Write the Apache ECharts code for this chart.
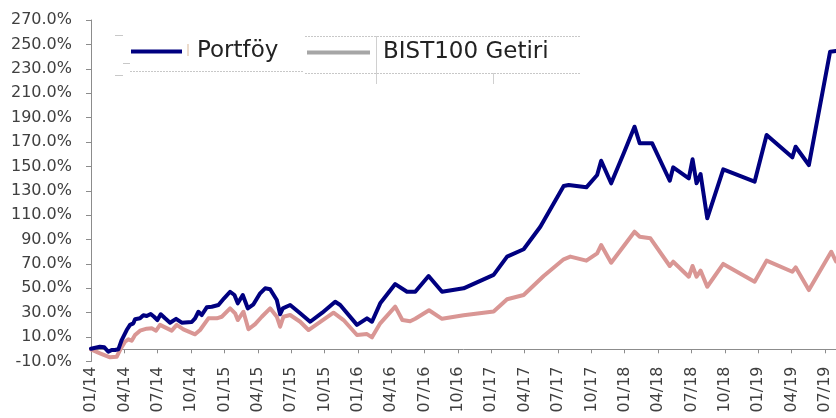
<!DOCTYPE html>
<html>
<head>
<meta charset="utf-8">
<script src="https://cdn.jsdelivr.net/npm/echarts@6/dist/echarts.min.js"></script>
<style>
  html, body { margin: 0; padding: 0; background: #fff; }
  #chart { width: 836px; height: 418px; }
</style>
</head>
<body>
<div id="chart"></div>
<script>
// x = months since 01/2014
const xTickLabels = ['01/14', '04/14', '07/14', '10/14', '01/15', '04/15', '07/15', '10/15',
  '01/16', '04/16', '07/16', '10/16', '01/17', '04/17', '07/17', '10/17',
  '01/18', '04/18', '07/18', '10/18', '01/19', '04/19', '07/19'];

const portMonths = [0, 0.8, 1.2, 1.56, 1.86, 2.16, 2.46, 2.76, 3.21, 3.51, 3.81, 3.96, 4.41, 4.71, 5.01,
  5.37, 5.67, 5.97, 6.27, 6.66, 7.11, 7.65, 8.16, 9.06, 9.36, 9.66, 9.96, 10.41, 10.86, 11.46,
  11.97, 12.51, 12.9, 13.2, 13.65, 14.1, 14.61, 15.21, 15.66, 16.11, 16.71, 17.01, 17.25, 17.91,
  18.81, 19.71, 20.8, 21.96, 22.41, 23.92, 24.82, 25.27, 26.01, 27.36, 28.42, 29.16, 30.36,
  31.57, 33.51, 36.21, 37.42, 38.91, 40.41, 42.51, 42.96, 44.55, 45.52, 45.88, 46.78, 47.91,
  48.88, 49.35, 50.47, 52.05, 52.36, 53.76, 54.1, 54.46, 54.82, 55.42, 56.86, 59.68, 60.76,
  63.07, 63.37, 64.56, 66.47, 67];
const portValues = [0.5, 2.1, 1.6, -2, -0.6, -0.6, 0, 7.6, 15.8, 20, 21.3, 24.6, 25.4, 27.9, 27.3,
  29, 26.7, 24, 28.7, 25.4, 21.8, 25, 21.8, 22.4, 25.4, 30.8, 28.1, 34.4, 34.9, 36.3,
  41.8, 47.2, 44.5, 37.7, 44.5, 33.6, 36.9, 45.9, 50, 49.2, 40.4, 28.7, 33.6, 36.3,
  29.5, 22.6, 30, 39, 36.3, 20, 25.4, 22.6, 37.7, 53.5, 47.2, 47.2, 60.1,
  47.2, 50, 61, 76, 82, 100.5, 133.9, 134.7, 132.8, 142.9, 154.6, 136.1, 160.7,
  182.5, 168.9, 168.9, 138.2, 149.2, 140.2, 155.8, 136.1, 143.7, 107.4, 147.6, 137.4, 175.7,
  157.4, 166.1, 151.1, 244, 244.5];

const bistMonths = [0, 0.81, 1.71, 2.31, 2.61, 3.06, 3.36, 3.66, 3.96, 4.41, 5.01, 5.46, 5.85, 6.21,
  6.66, 7.26, 7.71, 8.31, 9.36, 9.81, 10.56, 11.31, 11.76, 12.51, 12.96, 13.2, 13.71, 14.16,
  14.76, 15.36, 16.11, 16.71, 17.01, 17.31, 17.91, 18.81, 19.56, 21.81, 22.71, 23.92, 24.82,
  25.27, 26.01, 27.36, 28.0, 28.7, 29.16, 30.4, 31.57, 33.51, 36.21, 37.42, 38.91, 40.71,
  42.51, 43.11, 44.55, 45.52, 45.88, 46.78, 48.88, 49.35, 50.31, 52.05, 52.36, 53.76, 54.1,
  54.46, 54.82, 55.42, 56.86, 59.68, 60.76, 63.07, 63.37, 64.56, 66.57, 67];
const bistValues = [0, -3.3, -6.6, -6.1, -0.6, 6.2, 8.2, 7, 11.7, 15.3, 16.9, 17.2, 15.3, 20,
  18, 15.3, 20, 16.4, 12.3, 15.8, 25.4, 25.4, 26.7, 33.6, 29.5, 24, 30.8, 16.4,
  20.7, 26.7, 33.6, 26.7, 18.5, 26.7, 28.1, 22.6, 15.8, 30, 24, 11.7, 12.5,
  9.8, 21.3, 35, 24, 23, 25, 32, 25, 28, 31, 41, 44.5, 60.1,
  73.8, 76, 72.7, 78.7, 85.5, 71, 96.4, 92.3, 91, 68.3, 71.8, 59.5, 68.3,
  59.5, 64.5, 51.3, 70, 55.4, 72.7, 63.6, 67.2, 48.6, 80, 72];

const chart = echarts.init(document.getElementById('chart'));

const axisGray = '#8c8c8c';
const labelColor = '#404040';
const font = 'DejaVu Sans';

const option = {
  animation: false,
  backgroundColor: '#fff',
  grid: { left: 91, right: 0, top: 20, bottom: 56.5 },
  legend: [
    {
      data: [{ name: 'Portföy', itemStyle: { color: '#000080' } }],
      left: 131, top: 40, padding: 0,
      icon: 'rect', itemWidth: 51, itemHeight: 4,
      selectedMode: false,
      textStyle: { fontFamily: font, fontSize: 23, color: '#222', padding: [2, 0, 0, 10] }
    },
    {
      data: [{ name: 'BIST100 Getiri', itemStyle: { color: '#a6a6a6' }, lineStyle: { color: '#a6a6a6' } }],
      left: 307, top: 41, padding: 0,
      icon: 'rect', itemWidth: 63, itemHeight: 4,
      selectedMode: false,
      textStyle: { fontFamily: font, fontSize: 23, color: '#222', padding: [2, 0, 0, 8] }
    }
  ],
  xAxis: {
    type: 'value',
    min: 0, max: 67, interval: 3,
    splitLine: { show: false },
    axisLine: { lineStyle: { color: axisGray, width: 1 } },
    axisTick: { length: 4, lineStyle: { color: axisGray } },
    axisLabel: {
      rotate: 90, margin: 5, showMaxLabel: false,
      fontFamily: font, fontSize: 16, color: labelColor,
      formatter: function (v) {
        const i = v / 3;
        return Number.isInteger(i) && i < xTickLabels.length ? xTickLabels[i] : '';
      }
    }
  },
  yAxis: {
    type: 'value',
    min: -10, max: 270, interval: 20,
    splitLine: { show: false },
    axisLine: { show: true, lineStyle: { color: axisGray, width: 1 } },
    axisTick: { show: true, length: 5, lineStyle: { color: axisGray } },
    axisLabel: {
      margin: 19, fontFamily: font, fontSize: 16, color: labelColor,
      formatter: function (v) { return v.toFixed(1) + '%'; }
    }
  },
  series: [
    {
      name: 'BIST100 Getiri',
      type: 'line',
      data: bistMonths.map(function (m, i) { return [m, bistValues[i]]; }),
      showSymbol: false,
      itemStyle: { color: '#d99694' },
      lineStyle: { color: '#d99694', width: 4, join: 'round', cap: 'round' }
    },
    {
      name: 'Portföy',
      type: 'line',
      data: portMonths.map(function (m, i) { return [m, portValues[i]]; }),
      showSymbol: false,
      itemStyle: { color: '#000080' },
      lineStyle: { color: '#000080', width: 4, join: 'round', cap: 'round' }
    }
  ],
  // leftover legend-box outlines seen in the original
  graphic: [
    { type: 'line', shape: { x1: 130, y1: 71.5, x2: 304, y2: 71.5 }, style: { stroke: '#c8c8c8', lineWidth: 1, lineDash: [2, 1] } },
    { type: 'line', shape: { x1: 305, y1: 36.5, x2: 580, y2: 36.5 }, style: { stroke: '#c8c8c8', lineWidth: 1, lineDash: [2, 1] } },
    { type: 'line', shape: { x1: 305, y1: 73.5, x2: 580, y2: 73.5 }, style: { stroke: '#c8c8c8', lineWidth: 1, lineDash: [2, 1] } },
    { type: 'line', shape: { x1: 376.5, y1: 36, x2: 376.5, y2: 84 }, style: { stroke: '#d0d0d0', lineWidth: 1 } },
    { type: 'line', shape: { x1: 493.5, y1: 73, x2: 493.5, y2: 84 }, style: { stroke: '#d0d0d0', lineWidth: 1 } },
    { type: 'line', shape: { x1: 115, y1: 35.5, x2: 123, y2: 35.5 }, style: { stroke: '#c8c8c8', lineWidth: 1 } },
    { type: 'line', shape: { x1: 123, y1: 63.5, x2: 130, y2: 63.5 }, style: { stroke: '#c8c8c8', lineWidth: 1 } },
    { type: 'line', shape: { x1: 115, y1: 75.5, x2: 123, y2: 75.5 }, style: { stroke: '#c8c8c8', lineWidth: 1 } },
    { type: 'line', shape: { x1: 188, y1: 44, x2: 188, y2: 56 }, style: { stroke: '#d9b99b', lineWidth: 1 } }
  ]
};

chart.setOption(option);
</script>
</body>
</html>
